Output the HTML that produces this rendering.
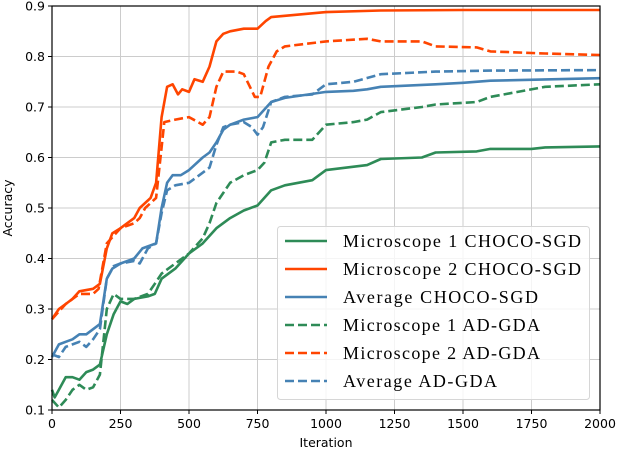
<!DOCTYPE html>
<html><head><meta charset="utf-8"><style>
html,body{margin:0;padding:0;background:#fff;}
svg{display:block;font-family:"DejaVu Sans","Liberation Sans",sans-serif;}
</style></head><body>
<svg id="chart" width="618" height="452" viewBox="0 0 618 452" xmlns="http://www.w3.org/2000/svg">
<g id="grid"></g>
<g id="series"></g>
<rect x="52" y="6" width="548" height="404" fill="none" stroke="#000" stroke-width="1.2"/>
<g id="ticks"></g>
<text x="326" y="447" font-size="12.5" text-anchor="middle">Iteration</text>
<text transform="translate(12,208) rotate(-90)" font-size="12.5" text-anchor="middle">Accuracy</text>
<g id="legend"></g>
</svg>
<script>
const xTicks=[0,250,500,750,1000,1250,1500,1750,2000];
const yTicks=[0.1,0.2,0.3,0.4,0.5,0.6,0.7,0.8,0.9];
const seriesNames=["Microscope 1 CHOCO-SGD","Microscope 2 CHOCO-SGD","Average CHOCO-SGD","Microscope 1 AD-GDA","Microscope 2 AD-GDA","Average AD-GDA"];
const seriesColors=["#2e8b57","#ff4500","#4682b4","#2e8b57","#ff4500","#4682b4"];
const seriesDashed=[false,false,false,true,true,true];
const m1ChocoX=[0,10,25,50,75,100,125,150,175,200,225,250,275,300,350,375,400,450,500,550,600,650,700,750,800,850,950,1000,1150,1200,1350,1400,1550,1600,1750,1800,2000];
const m1ChocoY=[0.14,0.125,0.14,0.165,0.165,0.16,0.175,0.18,0.19,0.25,0.29,0.315,0.31,0.32,0.325,0.33,0.36,0.38,0.41,0.43,0.46,0.48,0.495,0.505,0.535,0.545,0.555,0.575,0.585,0.597,0.6,0.61,0.612,0.617,0.617,0.62,0.622];
const m2ChocoX=[0,25,50,75,100,150,175,200,220,250,300,320,360,380,400,420,440,460,475,500,520,550,575,600,625,650,700,750,780,800,900,1000,1200,1500,2000];
const m2ChocoY=[0.28,0.30,0.31,0.32,0.335,0.34,0.35,0.42,0.45,0.46,0.48,0.50,0.52,0.55,0.68,0.74,0.745,0.725,0.735,0.73,0.755,0.75,0.78,0.83,0.845,0.85,0.855,0.855,0.87,0.878,0.883,0.888,0.891,0.892,0.892];
const avgChocoX=[0,25,50,75,100,125,150,175,200,220,250,300,330,380,400,420,440,470,500,550,575,600,625,650,700,750,800,850,1000,1100,1150,1200,1400,1500,1600,2000];
const avgChocoY=[0.205,0.23,0.235,0.24,0.25,0.25,0.26,0.27,0.36,0.38,0.39,0.40,0.42,0.43,0.50,0.55,0.565,0.565,0.575,0.60,0.61,0.63,0.655,0.665,0.675,0.68,0.71,0.718,0.73,0.732,0.735,0.74,0.745,0.748,0.752,0.757];
const m1AdX=[0,25,50,75,100,125,150,175,200,225,250,300,350,375,400,450,500,550,575,600,625,650,700,750,775,800,850,950,1000,1100,1150,1200,1350,1400,1550,1600,1800,2000];
const m1AdY=[0.12,0.105,0.12,0.14,0.15,0.14,0.145,0.17,0.30,0.33,0.32,0.32,0.33,0.35,0.37,0.39,0.41,0.44,0.47,0.51,0.53,0.55,0.565,0.575,0.59,0.63,0.635,0.635,0.665,0.67,0.675,0.69,0.70,0.705,0.71,0.72,0.74,0.745];
const m2AdX=[0,50,100,150,170,200,250,300,320,340,380,400,410,450,500,550,575,600,625,675,700,740,760,790,820,850,1000,1150,1200,1350,1400,1550,1600,1800,2000];
const m2AdY=[0.28,0.31,0.33,0.33,0.34,0.43,0.46,0.47,0.48,0.50,0.52,0.62,0.67,0.675,0.68,0.665,0.68,0.74,0.77,0.77,0.765,0.72,0.72,0.78,0.81,0.82,0.83,0.835,0.83,0.83,0.82,0.818,0.81,0.806,0.803];
const avgAdX=[0,25,50,75,100,125,150,175,200,225,250,300,320,350,380,400,420,450,500,550,575,600,625,650,700,730,750,770,800,850,950,1000,1100,1200,1400,1600,2000];
const avgAdY=[0.21,0.205,0.225,0.23,0.235,0.225,0.24,0.26,0.36,0.385,0.39,0.395,0.39,0.42,0.43,0.49,0.535,0.545,0.55,0.57,0.58,0.625,0.66,0.665,0.67,0.66,0.645,0.66,0.71,0.72,0.725,0.745,0.75,0.765,0.77,0.772,0.773];
const seriesX=[m1ChocoX,m2ChocoX,avgChocoX,m1AdX,m2AdX,avgAdX];
const seriesY=[m1ChocoY,m2ChocoY,avgChocoY,m1AdY,m2AdY,avgAdY];
const seriesKeys=["micro1-choco","micro2-choco","avg-choco","micro1-adgda","micro2-adgda","avg-adgda"];
const legendTextWidths=[238,238,195,197,197,154];

const NS="http://www.w3.org/2000/svg";
const X0=52,X1=600,Y0=410,Y1=6;
function sx(v){return X0+(v-0)/(2000-0)*(X1-X0);}
function sy(v){return Y0-(v-0.1)/(0.9-0.1)*(Y0-Y1);}
function mk(tag,attrs,parent){const e=document.createElementNS(NS,tag);for(const k in attrs)e.setAttribute(k,attrs[k]);parent.appendChild(e);return e;}
const grid=document.getElementById('grid'),ticks=document.getElementById('ticks'),ser=document.getElementById('series'),leg=document.getElementById('legend');
xTicks.forEach(t=>{
  const x=sx(t);
  const g=mk('line',{x1:x,x2:x,y1:Y1,y2:Y0,stroke:'#cccccc','stroke-width':1},grid);
  
  
  const tk=mk('line',{x1:x,x2:x,y1:Y0,y2:Y0+4,stroke:'#000','stroke-width':1},ticks);
  
  
  const tx=mk('text',{x:x,y:Y0+18,'font-size':12.5,'text-anchor':'middle'},ticks);
  tx.textContent=String(t);
  
  
});
yTicks.forEach(t=>{
  const y=sy(t);
  const g=mk('line',{x1:X0,x2:X1,y1:y,y2:y,stroke:'#cccccc','stroke-width':1},grid);
  
  
  const tk=mk('line',{x1:X0-4,x2:X0,y1:y,y2:y,stroke:'#000','stroke-width':1},ticks);
  
  
  const tx=mk('text',{x:X0-7,y:y+4.5,'font-size':12.5,'text-anchor':'end'},ticks);
  tx.textContent=t.toFixed(1);
  
  
});
const order=[3,4,5,0,1,2];
order.forEach(i=>{
  const pts=seriesX[i].map((x,j)=>sx(x).toFixed(1)+','+sy(seriesY[i][j]).toFixed(1)).join(' ');
  const p=mk('polyline',{points:pts,fill:'none',stroke:seriesColors[i],'stroke-width':2.6,'stroke-linejoin':'round'},ser);
  if(seriesDashed[i])p.setAttribute('stroke-dasharray','9 4');
  
  
});
const box=mk('rect',{x:277.5,y:226.5,width:312,height:173,rx:3,fill:'#fff','fill-opacity':0.8,stroke:'#d6d6d6'},leg);


seriesNames.forEach((n,i)=>{
  const y=241+i*28;
  const g=mk('g',{},leg);
  
  
  const l=mk('line',{x1:285,x2:327,y1:y,y2:y,stroke:seriesColors[i],'stroke-width':2.6},g);
  if(seriesDashed[i])l.setAttribute('stroke-dasharray','9 4');
  const t=mk('text',{x:343,y:y+6,'font-size':18,'font-family':'"Liberation Serif",serif',textLength:legendTextWidths[i],lengthAdjust:'spacing'},g);
  t.textContent=n;
});
</script>
</body></html>
